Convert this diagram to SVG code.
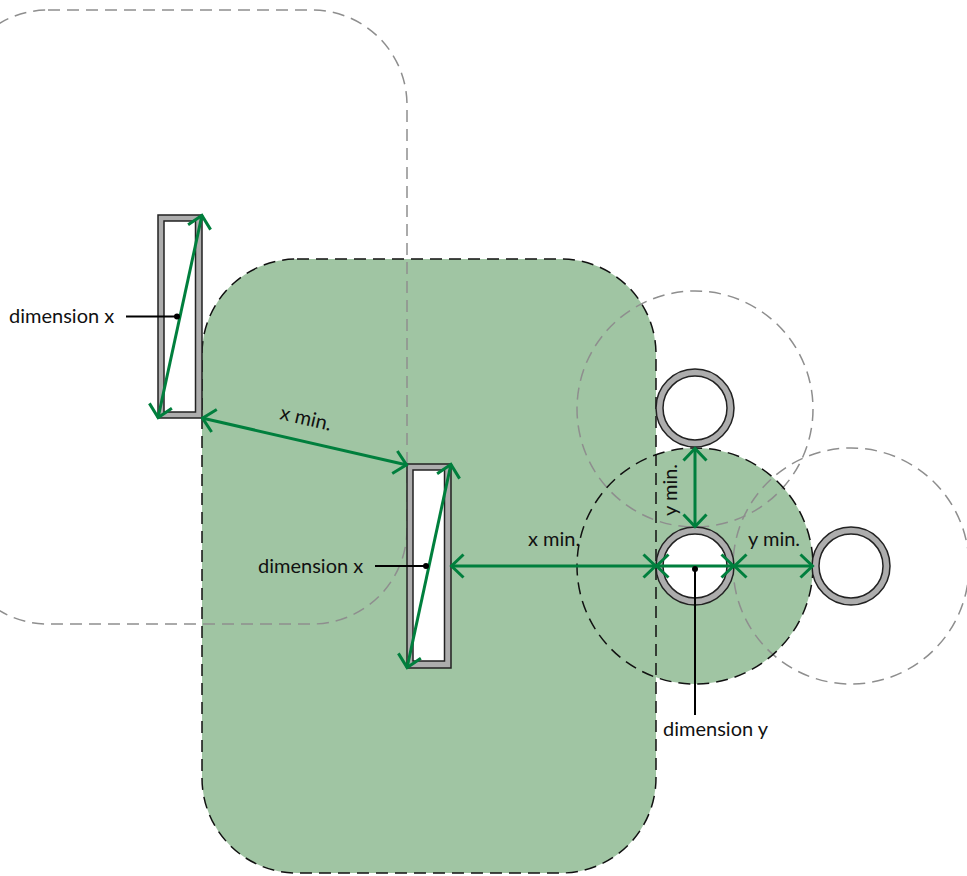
<svg xmlns="http://www.w3.org/2000/svg" width="967" height="876" viewBox="0 0 967 876">
<style>
.zone{fill:#a0c5a3;stroke:none}
.zl{fill:none;stroke:#111;stroke-width:1.5;stroke-dasharray:12 7}
.gz{fill:none;stroke:#8e8e8e;stroke-width:1.5;stroke-dasharray:12 7}
.wall{fill:#fff;stroke:#222;stroke-width:1.5}
.outer{fill:#adadad;stroke:#222;stroke-width:1.5}
.ln{fill:none;stroke:#000;stroke-width:2}
.dim{fill:none;stroke:#007f3d;stroke-width:3;marker-start:url(#a);marker-end:url(#a)}
text{font-family:"Lato","Open Sans",sans-serif;font-size:20px;fill:#111}
</style>
<defs>
<marker id="a" markerUnits="userSpaceOnUse" markerWidth="30" markerHeight="30" refX="16" refY="15" orient="auto-start-reverse" overflow="visible">
<path d="M3.500 3.500 L15.500 15 L3.500 26.500" fill="none" stroke="#007f3d" stroke-width="3"/>
</marker>
</defs>
<rect width="967" height="876" fill="#fff"/>
<g id="zones">
<rect class="zone" x="202" y="259" width="454" height="614" rx="95"/>
<circle class="zone" cx="695" cy="566" r="118"/>
</g>
<g id="zone-outlines">
<rect class="gz" x="-47" y="10" width="454" height="614" rx="95"/>
<circle class="gz" cx="695" cy="409" r="118"/>
<circle class="gz" cx="851" cy="566" r="118"/>
<rect class="zl" x="202" y="259" width="454" height="614" rx="95"/>
<circle class="zl" cx="695" cy="566" r="118"/>
</g>
<g id="rect-left"><rect class="outer" x="158" y="215" width="44" height="203"/><rect class="wall" x="164" y="221" width="31.500" height="191"/></g>
<g id="rect-centre"><rect class="outer" x="407" y="464" width="44" height="204"/><rect class="wall" x="413" y="470" width="31.500" height="191"/></g>
<g id="tube-top"><circle class="outer" cx="695" cy="408" r="39"/><circle class="wall" cx="695" cy="408" r="32"/></g>
<g id="tube-centre"><circle class="outer" cx="695" cy="566" r="39"/><circle class="wall" cx="695" cy="566" r="32"/></g>
<g id="tube-right"><circle class="outer" cx="851" cy="566" r="39"/><circle class="wall" cx="851" cy="566" r="32"/></g>
<g id="connectors">
<path class="dim" d="M202 215 L158 418"/>
<path class="dim" d="M451 464 L407 668"/>
<path class="dim" d="M202 418 L407 465"/>
<path class="dim" d="M451 566 L656 566"/>
<path class="dim" d="M656 566 L734 566"/>
<path class="dim" d="M734 566 L813 566"/>
<path class="dim" d="M695 448 L695 527"/>
<path class="ln" d="M126 316.500 H177"/>
<circle cx="177" cy="316.500" r="3"/>
<path class="ln" d="M375 566 H426"/>
<circle cx="426" cy="566" r="3"/>
<path class="ln" d="M695 569 V715"/>
<circle cx="695" cy="569" r="3"/>
</g>
<g id="labels">
<text x="9" y="323">dimension x</text>
<text x="258" y="573">dimension x</text>
<text x="663" y="736">dimension y</text>
<text x="528" y="546">x min.</text>
<text x="748" y="546">y min.</text>
<text transform="translate(279 419) rotate(13)">x min.</text>
<text transform="translate(677 516) rotate(-90)">y min.</text>
</g>
</svg>
